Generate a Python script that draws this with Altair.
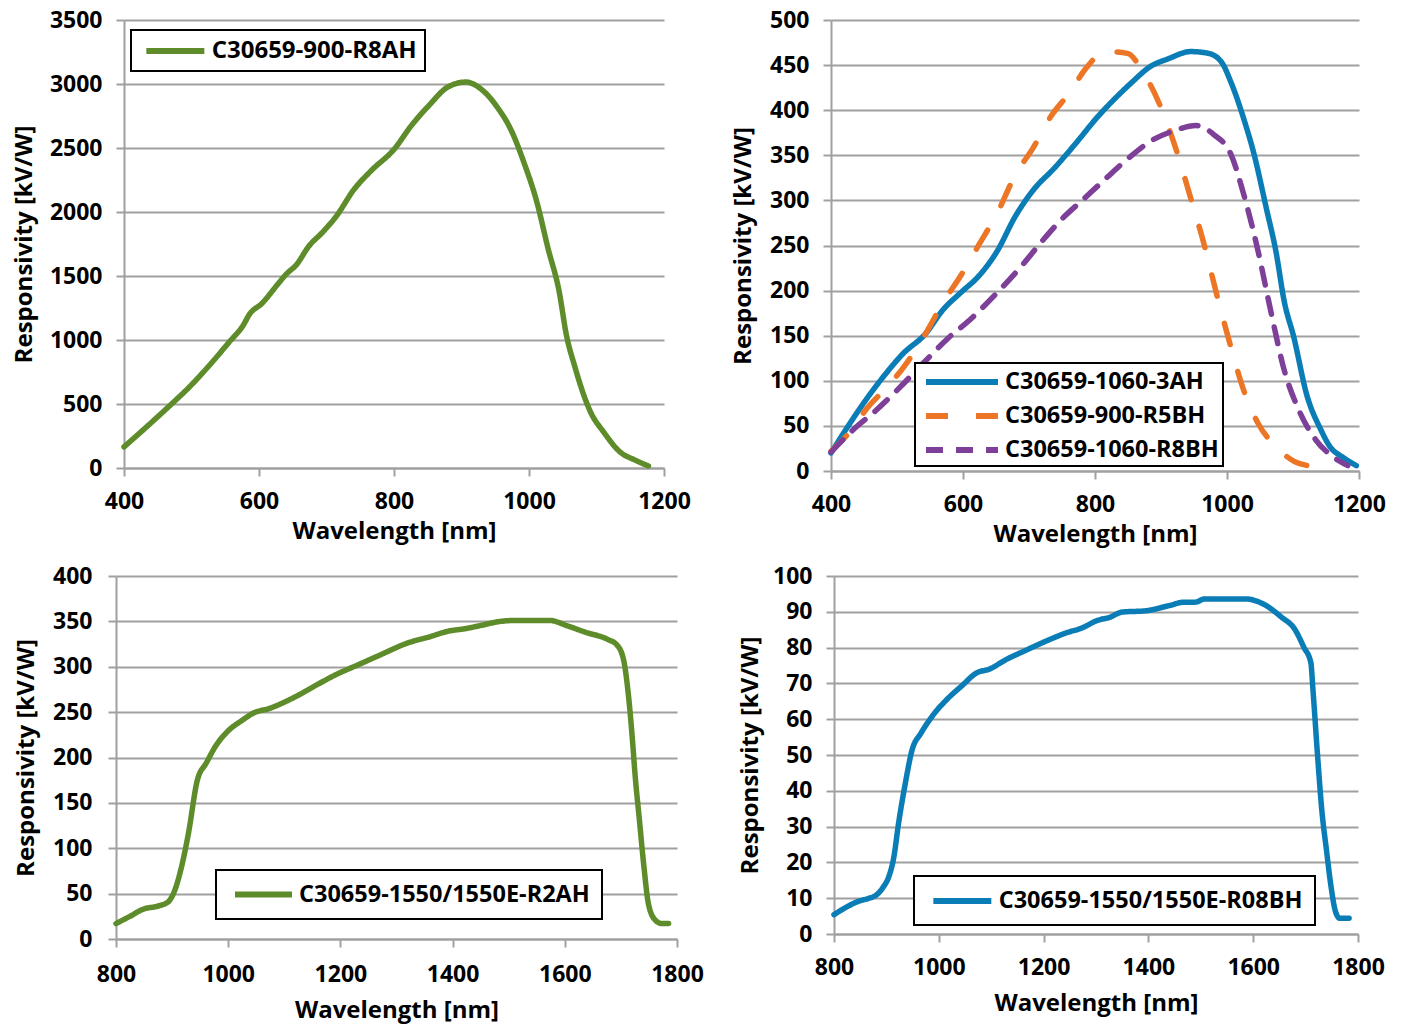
import altair as alt
import pandas as pd

FONT = "Open Sans"
GRID = "#A0A0A0"

# ---- Panel 1: C30659-900-R8AH ----
p1_names = ["C30659-900-R8AH"]
p1_wl = [400, 430, 469, 496, 529, 555, 578, 585, 605, 628, 641, 655, 674, 694, 714, 741, 767, 800,
         826, 853, 879, 906, 932, 952, 975, 992, 1012, 1028, 1045, 1055, 1068, 1091, 1111, 1134, 1157, 1177]
p1_r = [165, 305, 493, 628, 817, 979, 1127, 1194, 1289, 1437, 1518, 1585, 1734, 1841, 1963, 2178, 2327, 2489,
        2677, 2839, 2974, 3015, 2947, 2826, 2623, 2394, 2071, 1720, 1370, 1050, 790, 439, 278, 129, 62, 16]

# ---- Panel 2 ----
p2_names = ["C30659-1060-3AH", "C30659-900-R5BH", "C30659-1060-R8BH"]
p2a_wl = [400, 427, 454, 482, 509, 543, 570, 597, 625, 652, 679, 706, 740, 774, 802, 829, 856, 883, 911, 945,
          972, 992, 1006, 1026, 1040, 1060, 1074, 1087, 1101, 1121, 1142, 1156, 1176, 1196]
p2a_r = [20, 51, 80, 107, 130, 152, 179, 198, 217, 244, 282, 311, 337, 366, 391, 412, 431, 448, 457, 465,
         463, 453, 431, 389, 354, 290, 244, 187, 149, 84, 46, 27, 15, 6]
p2b_wl = [400, 427, 454, 482, 509, 543, 570, 597, 625, 652, 679, 706, 733, 761, 788, 815, 849, 873, 897, 924,
          944, 965, 985, 1006, 1026, 1047, 1074, 1101, 1128, 1159]
p2b_r = [22, 42, 69, 91, 114, 152, 187, 217, 252, 286, 328, 358, 393, 419, 448, 465, 463, 442, 408, 354,
         305, 252, 194, 137, 88, 53, 27, 11, 5, 0]
p2c_wl = [400, 434, 468, 502, 543, 577, 611, 652, 686, 720, 748, 782, 816, 851, 885, 919, 953, 980, 1006, 1026,
          1047, 1067, 1087, 1108, 1135, 1162, 1183]
p2c_r = [21, 46, 67, 91, 122, 147, 168, 198, 225, 255, 278, 301, 324, 347, 366, 377, 383, 373, 351, 305,
         244, 175, 111, 69, 34, 15, 6]

# ---- Panel 3: C30659-1550/1550E-R2AH ----
p3_names = ["C30659-1550/1550E-R2AH"]
p3_wl = [800, 825, 849, 873, 893, 905, 917, 929, 945, 961, 977, 1001, 1025, 1045, 1073, 1120, 1152, 1191, 1231,
         1271, 1319, 1359, 1391, 1423, 1447, 1486, 1510, 1573, 1605, 1637, 1677, 1693, 1705, 1713, 1721, 1725,
         1733, 1741, 1749, 1761, 1773, 1785]
p3_r = [17, 25, 33, 36, 41, 54, 80, 116, 175, 194, 212, 230, 241, 249, 254, 267, 278, 291, 302,
        313, 326, 333, 339, 342, 345, 350, 351, 351, 345, 338, 330, 324, 307, 271, 216, 183,
        131, 80, 39, 21, 17, 17]

# ---- Panel 4: C30659-1550/1550E-R08BH ----
p4_names = ["C30659-1550/1550E-R08BH"]
p4_wl = [800, 820, 846, 867, 880, 893, 906, 914, 923, 936, 949, 966, 992, 1018, 1043, 1073, 1095, 1129, 1164,
         1206, 1241, 1275, 1301, 1327, 1349, 1396, 1439, 1469, 1490, 1507, 1585, 1619, 1654, 1679, 1697, 1710,
         1714, 1723, 1731, 1740, 1748, 1757, 1765, 1783]
p4_r = [5.4, 7.2, 9.1, 10.0, 10.8, 12.9, 16.6, 21.3, 30.7, 42.0, 51.4, 56.1, 61.7, 65.9, 69.2, 73.0, 73.9, 76.7,
        79.1, 81.9, 84.0, 85.6, 87.5, 88.5, 89.9, 90.3, 91.7, 92.7, 92.7, 93.6, 93.6, 92.2, 88.5, 85.2, 80.0,
        75.8, 68.3, 49.5, 34.5, 23.2, 13.8, 6.3, 4.4, 4.4]

GREEN = "#5E8C2B"
BLUE = "#0B7DB6"
ORANGE = "#ED7626"
PURPLE = "#7D3F98"


def frame(pairs):
    rows = []
    for name, wl, r in pairs:
        for a, b in zip(wl, r):
            rows.append({"s": name, "wl": a, "r": b})
    return pd.DataFrame(rows)


def panel(df, names, colors, dashes, xdom, xticks, ydom, yticks, w, h, lx, ly, symw, pad, rowpad,
          xtp=6, ytp=10, lpad=14, lfs=24, xoff=0):
    s = symw / 3.0
    leg = alt.Legend(
        title=None, orient="none", legendX=lx + xoff, legendY=ly, padding=pad, rowPadding=rowpad,
        symbolType="M-3,0H3", symbolSize=s * s, symbolStrokeWidth=6, symbolOffset=s + 4,
        labelFont=FONT, labelFontSize=lfs, labelFontWeight="bold", labelColor="black",
        labelOffset=s + 4, labelLimit=0, strokeColor="black", fillColor="white",
    )
    xscale = alt.Scale(domain=xdom, nice=False, zero=False)
    if xoff:
        xscale = alt.Scale(domain=xdom, nice=False, zero=False, range=[xoff, w + xoff])
    yaxis = dict(values=yticks, title="Responsivity [kV/W]", grid=True, format="d",
                 labelOverlap=False, titlePadding=ytp, labelPadding=lpad)
    if xoff:
        yaxis["offset"] = -xoff
    return alt.Chart(df).mark_line(
        strokeWidth=5.5, strokeCap="round", strokeJoin="round", interpolate="monotone"
    ).encode(
        x=alt.X("wl:Q", scale=xscale,
                axis=alt.Axis(values=xticks, title="Wavelength [nm]", grid=False, labelFlush=False,
                              format="d", labelOverlap=False, titlePadding=xtp, labelPadding=lpad)),
        y=alt.Y("r:Q", scale=alt.Scale(domain=ydom, nice=False), axis=alt.Axis(**yaxis)),
        color=alt.Color("s:N", scale=alt.Scale(domain=names, range=colors), legend=leg),
        strokeDash=alt.StrokeDash("s:N", scale=alt.Scale(domain=names, range=dashes), legend=leg),
        order=alt.Order("wl:Q"),
    ).properties(width=w + xoff, height=h)


df1 = frame([(p1_names[0], p1_wl, p1_r)])
df2 = frame([(p2_names[0], p2a_wl, p2a_r), (p2_names[1], p2b_wl, p2b_r), (p2_names[2], p2c_wl, p2c_r)])
df3 = frame([(p3_names[0], p3_wl, p3_r)])
df4 = frame([(p4_names[0], p4_wl, p4_r)])

c1 = panel(df1, p1_names, [GREEN], [[1, 0]], [400, 1200], [400, 600, 800, 1000, 1200],
           [0, 3500], list(range(0, 3501, 500)), 540, 448, 7, 10, 58, 8, 0, ytp=13, xoff=8)
c2 = panel(df2, p2_names, [BLUE, ORANGE, PURPLE], [[1, 0], [22, 28], [17, 13]], [400, 1200],
           [400, 600, 800, 1000, 1200], [0, 500], list(range(0, 501, 50)), 528, 451, 84, 343, 72, 4, 7,
           ytp=14, lfs=23.5)
c3 = panel(df3, p3_names, [GREEN], [[1, 0]], [800, 1800], list(range(800, 1801, 200)),
           [0, 400], list(range(0, 401, 50)), 561, 363, 100, 294, 57, 12, 0, xtp=12, ytp=14, lpad=16,
           lfs=23.5)
c4 = panel(df4, p4_names, [BLUE], [[1, 0]], [800, 1800], list(range(800, 1801, 200)),
           [0, 100], list(range(0, 101, 10)), 524, 358, 80, 300, 58, 12, 0, xtp=12, lfs=23.5)

indep = dict(color="independent", strokeDash="independent", x="independent", y="independent")
top = alt.hconcat(c1, c2, spacing=167, bounds="flush").resolve_scale(**indep).resolve_legend(
    color="independent", strokeDash="independent")
bottom = alt.hconcat(c3, c4, spacing=157, bounds="flush").resolve_scale(**indep).resolve_legend(
    color="independent", strokeDash="independent")

chart = alt.concat(top, bottom, columns=1, align="none", spacing=19,
                   padding={"left": 4, "top": 1, "right": 5, "bottom": 5}
                   ).resolve_scale(**indep).resolve_legend(color="independent", strokeDash="independent"
                   ).configure(font=FONT).configure_view(stroke=None).configure_axis(
    labelFont=FONT, labelFontSize=23, labelFontWeight="bold", labelColor="black",
    titleFont=FONT, titleFontSize=24, titleFontWeight="bold", titleColor="black",
    domainColor=GRID, domainWidth=2, tickColor=GRID, tickWidth=2, tickSize=8,
    gridColor=GRID, gridWidth=2,
).configure_legend(strokeWidth=2)

chart.save("out.html", embed_options={"renderer": "svg", "actions": False})
